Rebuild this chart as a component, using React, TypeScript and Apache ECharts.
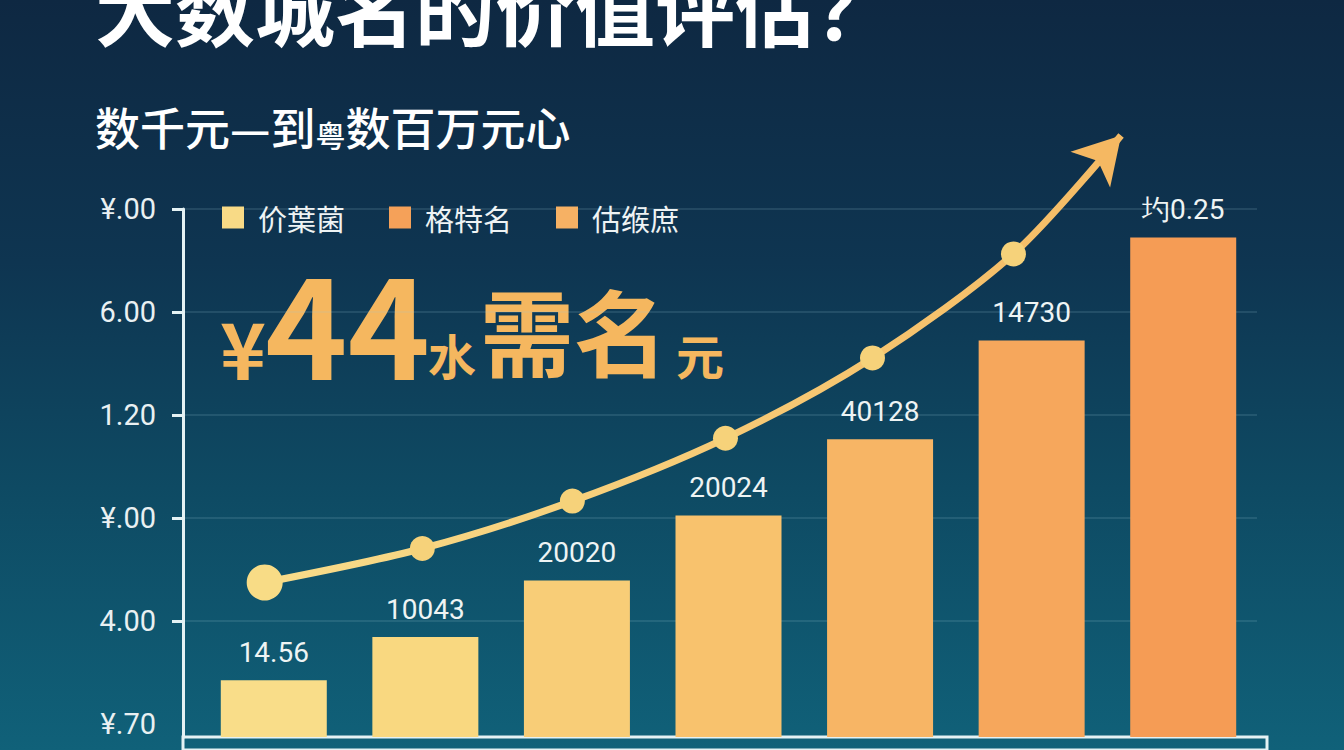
import { useEffect, useRef } from 'react';
import * as echarts from 'echarts';

const titleText = '大数城名的价值评估？';
const subtitleText = '{a|数千元—到}{b|粤}{a|数百万元心}';
const tickLabels = ['¥.70', '4.00', '¥.00', '1.20', '6.00', '¥.00'];
const legendNames = ['价葉菌', '格特名', '估缑庶'];
const legendColors = ['#f8da86', '#f5a159', '#f6b164'];
const categories = ['一', '二', '三', '四', '五', '六', '七'];
const barValues = [0.55, 0.97, 1.52, 2.15, 2.89, 3.85, 4.85];
const barLabels = ['14.56', '10043', '20020', '20024', '40128', '14730', '圴0.25'];
const barColors = ['#f9dd89', '#f9d880', '#f8cd77', '#f8c26d', '#f7b565', '#f6a75c', '#f59c55'];
// trend line, x in category units (bar i centred at i + 0.5)
const trendX = [0.44, 1.48, 2.47, 3.48, 4.45, 5.38, 6.09];
const trendY = [1.5, 1.83, 2.29, 2.9, 3.68, 4.69, 5.84];

const CJK = '"Noto Sans CJK SC"';
const AXIS_COLOR = '#e4f2f4';
const GOLD = '#f5b75f';

export default function App() {
  const chartRef = useRef<HTMLDivElement>(null);
  useEffect(() => {
    document.body.style.margin = '0';
    if (!chartRef.current) return;
    const chart = echarts.init(chartRef.current, undefined, { renderer: 'svg' });
    const last = trendX.length - 1;
    const headline = (text: string, left: number, top: number, fontSize: number, lineHeight: number) => ({
      type: 'text',
      left,
      top,
      style: { text, fill: GOLD, fontSize, lineHeight, fontWeight: 'bold', fontFamily: CJK },
    });
    chart.setOption({
      animation: false,
      backgroundColor: 'transparent',
      grid: [
        // tick labels + split lines
        { left: 183, right: 87, top: 209, bottom: 26 },
        // bars + trend
        { left: 198, right: 85, top: 209, bottom: 13 },
        // box under the bars
        {
          left: 183, right: 77, top: 737, height: 40, show: true,
          borderColor: AXIS_COLOR, borderWidth: 3, backgroundColor: 'transparent',
        },
      ],
      legend: {
        left: 217,
        top: 198,
        icon: 'rect',
        itemWidth: 22,
        itemHeight: 22,
        itemGap: 44,
        selectedMode: false,
        textStyle: { color: '#eef3f4', fontSize: 29, fontFamily: CJK, padding: [0, 0, 0, 9] },
        data: legendNames.map((n, i) => ({ name: n, itemStyle: { color: legendColors[i], opacity: 1 } })),
      },
      xAxis: [
        { gridIndex: 0, type: 'value', show: false, min: 0, max: 1 },
        { gridIndex: 1, type: 'category', data: categories, show: false },
        { gridIndex: 1, type: 'value', show: false, min: 0, max: 7 },
        { gridIndex: 2, type: 'value', show: false },
      ],
      yAxis: [
        {
          gridIndex: 0,
          type: 'value',
          min: 0,
          max: 5,
          interval: 1,
          axisLine: { show: false },
          axisTick: { show: true, length: 11, customValues: [1, 2, 3, 4, 5], lineStyle: { color: AXIS_COLOR, width: 3 } },
          axisLabel: {
            margin: 27,
            color: '#e9f0f2',
            fontSize: 29,
            fontFamily: 'Roboto',
            formatter: (v: number) => tickLabels[Math.round(v)] ?? '',
          },
          splitLine: { lineStyle: { color: 'rgba(160,205,215,0.2)', width: 1.5 } },
        },
        {
          gridIndex: 1,
          type: 'value',
          min: 0,
          max: 5.126,
          offset: 15,
          axisLine: { show: true, onZero: false, lineStyle: { color: AXIS_COLOR, width: 3 } },
          axisTick: { show: false },
          axisLabel: { show: false },
          splitLine: { show: false },
        },
        { gridIndex: 2, type: 'value', show: false },
      ],
      series: [
        {
          name: legendNames[0],
          type: 'bar',
          xAxisIndex: 1,
          yAxisIndex: 1,
          barWidth: 106,
          data: barValues.map((v, i) => ({ value: v, itemStyle: { color: barColors[i] } })),
          label: {
            show: true,
            position: 'top',
            distance: 14,
            color: '#eef4f4',
            fontSize: 28,
            fontFamily: 'Roboto',
            formatter: (p: any) => barLabels[p.dataIndex],
          },
        },
        {
          name: legendNames[1],
          type: 'scatter',
          xAxisIndex: 2,
          yAxisIndex: 1,
          itemStyle: { color: legendColors[1], opacity: 1 },
          data: [],
        },
        {
          name: legendNames[2],
          type: 'line',
          xAxisIndex: 2,
          yAxisIndex: 1,
          smooth: 0.3,
          clip: false,
          z: 5,
          lineStyle: {
            width: 7,
            color: new echarts.graphic.LinearGradient(0, 0, 1, 0, [
              { offset: 0, color: '#f8dc8a' },
              { offset: 1, color: '#f5bb65' },
            ]),
          },
          itemStyle: { color: '#f6d47c' },
          data: trendX.map((x, i) => ({
            value: [x, trendY[i]],
            symbol: i === last ? 'arrow' : 'circle',
            symbolSize: i === 0 ? 36 : i === last ? [40, 46] : 25,
            symbolRotate: i === last ? -42 : 0,
            itemStyle: { color: i === last ? '#f5b862' : i === 0 ? '#f8dc86' : '#f6d27a' },
          })),
        },
      ],
      graphic: [
        {
          type: 'text',
          left: 95,
          top: -35,
          style: { text: titleText, fill: '#ffffff', fontSize: 80, fontWeight: 'bold', fontFamily: CJK },
        },
        {
          type: 'text',
          left: 95,
          top: 104,
          style: {
            text: subtitleText,
            fill: '#ffffff',
            rich: {
              a: { fontSize: 45, fontFamily: CJK, fontWeight: 500, fill: '#ffffff', verticalAlign: 'bottom', lineHeight: 48 },
              b: { fontSize: 30, fontFamily: CJK, fontWeight: 500, fill: '#ffffff', verticalAlign: 'bottom', lineHeight: 44 },
            },
          },
        },
        headline('¥', 220, 307, 78, 78),
        headline('44', 265, 249, 140, 100),
        headline('水', 428, 330, 48, 48),
        headline('需名', 480, 282, 94, 94),
        headline('元', 676, 330, 48, 48),
      ],
    });
    return () => {
      chart.dispose();
    };
  }, []);
  return (
    <div
      ref={chartRef}
      style={{
        width: 1344,
        height: 750,
        background: 'linear-gradient(180deg, #0e2842 0%, #0e3551 35%, #0e4a63 65%, #106179 100%)',
      }}
    />
  );
}
